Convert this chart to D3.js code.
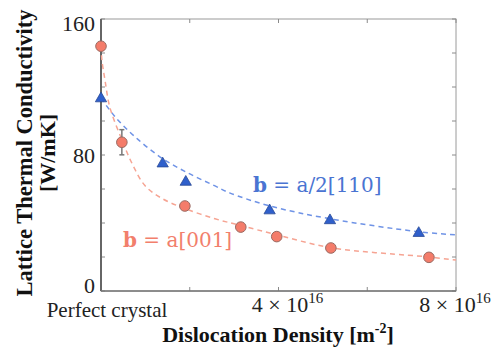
<!DOCTYPE html>
<html>
<head>
<meta charset="utf-8">
<script src="https://cdn.jsdelivr.net/npm/d3@7"></script>
<style>
  html, body { margin: 0; padding: 0; background: #fff; }
  svg { display: block; }
</style>
</head>
<body>
<div id="chart"></div>
<script>
// Lattice thermal conductivity vs dislocation density (x in units of 1e16 m^-2)

// b = a[001] : measured points
const rhoA001 = [0, 0.47, 1.89, 3.15, 3.96, 5.18, 7.39];
const kA001 = [144, 87.5, 50, 37.6, 32, 25.3, 19.8];
const errA001 = [0, 7.4, 0, 0, 0, 0, 0];

// b = a/2[110] : measured points
const rhoA110 = [0, 1.39, 1.91, 3.8, 5.16, 7.16];
const kA110 = [113.5, 75.2, 64.4, 47.6, 41.8, 34.3];

// dashed fit curves
const fitRhoA001 = [0, 0.02, 0.09, 0.2, 0.47, 0.7, 0.99, 1.37, 1.89, 2.57, 3.15, 3.97, 5.18, 7.39, 8.0];
const fitKA001 = [144, 136, 124, 108, 89, 75, 62, 54.5, 48.5, 42.5, 38.5, 33, 25.5, 20, 18.2];
const fitRhoA110 = [0, 0.32, 0.77, 1.37, 1.96, 2.57, 2.91, 3.81, 5.16, 7.12, 8.0];
const fitKA110 = [113.5, 102.4, 90.6, 78.2, 69.4, 61.8, 57.6, 50, 42.5, 35, 33];

const yTicks = [0, 20, 40, 60, 80, 100, 120, 140, 160];
const yTickLabels = [0, 80, 160];
const xTicks = [0, 2, 4, 6, 8];
const xTickLabels = [4, 8];

const width = 495;
const height = 350;
const margin = { top: 19, right: 39, bottom: 59, left: 101 };

const serif = '"Liberation Serif", "Times New Roman", Times, serif';
const red = '#f47c6a';
const redLine = '#f6a493';
const blue = '#2f5fcb';
const blueLine = '#6f93e6';

const svg = d3.select('#chart')
    .append('svg')
    .attr('width', width)
    .attr('height', height)
    .attr('viewBox', [0, 0, width, height]);

const x = d3.scaleLinear()
    .domain([0, 8])
    .range([margin.left, width - margin.right]);

const y = d3.scaleLinear()
    .domain([0, 160])
    .range([height - margin.bottom, margin.top]);

const x0 = x.range()[0], x1 = x.range()[1];
const y0 = y.range()[0], y1 = y.range()[1];

// box
svg.append('rect')
    .attr('x', x0).attr('y', y1)
    .attr('width', x1 - x0).attr('height', y0 - y1)
    .attr('fill', 'none')
    .attr('stroke', '#9a9a9a')
    .attr('stroke-width', 1);

// inward ticks on all four sides
const tickLen = 4;
const tg = svg.append('g').attr('stroke', '#8a8a8a').attr('stroke-width', 1);
yTicks.forEach(t => {
    tg.append('line').attr('x1', x0).attr('x2', x0 + tickLen).attr('y1', y(t)).attr('y2', y(t));
    tg.append('line').attr('x1', x1).attr('x2', x1 - tickLen).attr('y1', y(t)).attr('y2', y(t));
});
xTicks.forEach(t => {
    tg.append('line').attr('x1', x(t)).attr('x2', x(t)).attr('y1', y0).attr('y2', y0 - tickLen);
    tg.append('line').attr('x1', x(t)).attr('x2', x(t)).attr('y1', y1).attr('y2', y1 + tickLen);
});

// darker left and bottom axis lines
svg.append('line')
    .attr('x1', x0).attr('x2', x0).attr('y1', y1).attr('y2', y0)
    .attr('stroke', '#666').attr('stroke-width', 2);
svg.append('line')
    .attr('x1', x0).attr('x2', x1).attr('y1', y0).attr('y2', y0)
    .attr('stroke', '#777').attr('stroke-width', 1.5);

// y tick labels (end labels nudged inside the range, as in the original)
svg.append('g')
    .selectAll('text')
    .data(yTickLabels)
    .join('text')
    .attr('x', x0 - 6)
    .attr('y', d => y(d) + (d === 0 ? -6 : d === 160 ? 4 : 0))
    .attr('dy', '0.35em')
    .attr('text-anchor', 'end')
    .attr('font-family', serif)
    .attr('font-size', 22)
    .attr('fill', '#222')
    .text(d => d);

// x tick labels
const xl = svg.append('g')
    .selectAll('text')
    .data(xTickLabels)
    .join('text')
    .attr('x', (d, i) => x(d) + (i === 0 ? 9 : -1))
    .attr('y', y0 + 21)
    .attr('text-anchor', 'middle')
    .attr('font-family', serif)
    .attr('font-size', 22)
    .attr('fill', '#222');
xl.append('tspan').text(d => d + ' \u00d7 10');
xl.append('tspan').attr('dy', -9).attr('font-size', 15).text('16');

svg.append('text')
    .attr('x', x(0) + 6)
    .attr('y', y0 + 26)
    .attr('text-anchor', 'middle')
    .attr('font-family', serif)
    .attr('font-size', 21)
    .attr('fill', '#222')
    .text('Perfect crystal');

// axis titles
const xt = svg.append('text')
    .attr('x', 278)
    .attr('y', 342)
    .attr('text-anchor', 'middle')
    .attr('font-family', serif)
    .attr('font-weight', 'bold')
    .attr('font-size', 22)
    .attr('fill', '#111');
xt.append('tspan').text('Dislocation Density [m');
xt.append('tspan').attr('dy', -9).attr('font-size', 14).text('-2');
xt.append('tspan').attr('dy', 9).text(']');

svg.append('text')
    .attr('transform', 'translate(32,153) rotate(-90)')
    .attr('text-anchor', 'middle')
    .attr('font-family', serif)
    .attr('font-weight', 'bold')
    .attr('font-size', 22.5)
    .attr('fill', '#111')
    .text('Lattice Thermal Conductivity');

svg.append('text')
    .attr('transform', 'translate(55,153) rotate(-90)')
    .attr('text-anchor', 'middle')
    .attr('font-family', serif)
    .attr('font-weight', 'bold')
    .attr('font-size', 22)
    .attr('fill', '#111')
    .text('[W/mK]');

// fit curves
const line = d3.line()
    .x(d => x(d[0]))
    .y(d => y(d[1]))
    .curve(d3.curveCatmullRom.alpha(0.5));

svg.append('path')
    .datum(d3.zip(fitRhoA110, fitKA110))
    .attr('d', line)
    .attr('fill', 'none')
    .attr('stroke', blueLine)
    .attr('stroke-width', 1.5)
    .attr('stroke-dasharray', '5,4');

svg.append('path')
    .datum(d3.zip(fitRhoA001, fitKA001))
    .attr('d', line)
    .attr('fill', 'none')
    .attr('stroke', redLine)
    .attr('stroke-width', 1.5)
    .attr('stroke-dasharray', '5,4');

// error bars
const ptsA001 = d3.zip(rhoA001, kA001, errA001);
const eg = svg.append('g').attr('stroke', '#777').attr('stroke-width', 1.5);
ptsA001.filter(d => d[2] > 0).forEach(d => {
    eg.append('line').attr('x1', x(d[0])).attr('x2', x(d[0]))
        .attr('y1', y(d[1] - d[2])).attr('y2', y(d[1] + d[2]));
    eg.append('line').attr('x1', x(d[0]) - 2.5).attr('x2', x(d[0]) + 2.5)
        .attr('y1', y(d[1] - d[2])).attr('y2', y(d[1] - d[2]));
    eg.append('line').attr('x1', x(d[0]) - 2.5).attr('x2', x(d[0]) + 2.5)
        .attr('y1', y(d[1] + d[2])).attr('y2', y(d[1] + d[2]));
});

// markers
svg.append('g')
    .selectAll('path')
    .data(d3.zip(rhoA110, kA110))
    .join('path')
    .attr('d', d3.symbol().type(d3.symbolTriangle).size(55))
    .attr('transform', d => `translate(${x(d[0])},${y(d[1]) + 0.5})`)
    .attr('fill', blue)
    .attr('stroke', '#2a4a95')
    .attr('stroke-width', 0.8);

svg.append('g')
    .selectAll('circle')
    .data(ptsA001)
    .join('circle')
    .attr('cx', d => x(d[0]))
    .attr('cy', d => y(d[1]))
    .attr('r', 5.3)
    .attr('fill', red)
    .attr('stroke', '#9a6a62')
    .attr('stroke-width', 1);

// series labels
const lab = (tx, ty, color, rest) => {
    const t = svg.append('text')
        .attr('x', tx)
        .attr('y', ty)
        .attr('font-family', '"DejaVu Serif", serif')
        .attr('font-size', 20)
        .attr('fill', color);
    t.append('tspan').attr('font-weight', 'bold').text('b');
    t.append('tspan').text(' = ' + rest);
};
lab(253, 192, '#4a74d2', 'a/2[110]');
lab(123, 247, '#f27f6c', 'a[001]');
</script>
</body>
</html>
